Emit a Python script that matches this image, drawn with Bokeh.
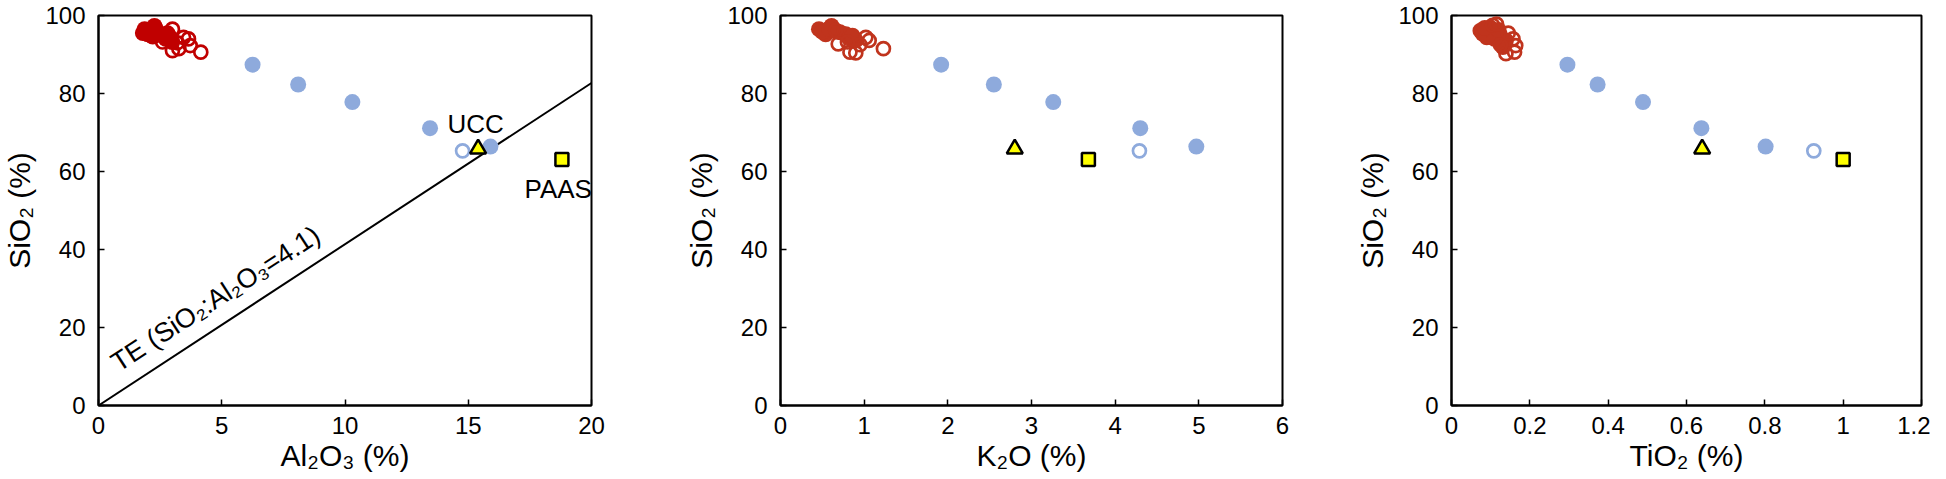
from bokeh.plotting import figure
from bokeh.layouts import row
from bokeh.models import Range1d, FixedTicker, CustomJSTickFormatter
from bokeh.embed import file_html
from bokeh.resources import INLINE
from bokeh.core.properties import value

# ---------------- data ----------------
blue_sio2 = [87.4, 82.3, 77.8, 71.1, 66.4]
blue_al2o3 = [6.25, 8.1, 10.3, 13.45, 15.9]
blue_k2o = [1.92, 2.55, 3.26, 4.30, 4.97]
blue_tio2 = [0.296, 0.373, 0.489, 0.638, 0.802]

blue_open_sio2 = [65.3]
blue_open_al2o3 = [14.77]
blue_open_k2o = [4.29]
blue_open_tio2 = [0.925]

ucc_sio2 = [65.8]
ucc_al2o3 = [15.4]
ucc_k2o = [2.80]
ucc_tio2 = [0.64]

paas_sio2 = [63.1]
paas_al2o3 = [18.8]
paas_k2o = [3.68]
paas_tio2 = [1.0]

red_fill_al2o3 = [1.87, 2.27, 2.0, 2.47, 2.73, 2.99, 2.1, 2.6, 1.8, 2.35, 2.85, 2.2]
red_fill_al2o3_sio2 = [96.5, 97.3, 95.2, 95.2, 94.0, 93.2, 96.0, 94.8, 95.5, 96.3, 94.9, 94.6]
red_open_al2o3 = [3.0, 3.45, 3.65, 2.6, 3.0, 3.26, 4.15, 3.72, 2.8, 3.2]
red_open_al2o3_sio2 = [96.5, 94.4, 94.0, 93.2, 91.0, 91.5, 90.6, 92.3, 95.5, 93.0]

red_fill_k2o = [0.46, 0.61, 0.54, 0.71, 0.81, 0.90, 0.50, 0.65, 0.78, 0.58, 0.86]
red_fill_k2o_sio2 = [96.5, 97.3, 95.2, 95.7, 94.4, 93.6, 95.8, 96.0, 95.2, 96.6, 94.8]
red_open_k2o = [0.66, 1.02, 1.06, 0.69, 0.83, 0.90, 1.23, 0.95, 0.80]
red_open_k2o_sio2 = [96.2, 94.4, 93.6, 92.7, 90.6, 90.4, 91.5, 92.5, 93.2]

red_fill_tio2 = [0.074, 0.099, 0.090, 0.123, 0.139, 0.131, 0.08, 0.11, 0.085, 0.12]
red_fill_tio2_sio2 = [96.1, 96.9, 94.4, 95.2, 93.6, 91.9, 95.3, 94.0, 96.8, 96.3]
red_open_tio2 = [0.105, 0.115, 0.157, 0.164, 0.139, 0.161, 0.125, 0.145]
red_open_tio2_sio2 = [97.5, 97.8, 94.0, 92.3, 90.2, 90.6, 92.5, 95.5]

te_al2o3 = [0, 20]
te_sio2 = [0, 82.7]

y_ticks = [0, 20, 40, 60, 80, 100]
x_ticks_al = [0, 5, 10, 15, 20]
x_ticks_k = [0, 1, 2, 3, 4, 5, 6]
x_ticks_ti = [0, 0.2, 0.4, 0.6, 0.8, 1.0, 1.2]

labels_text = ["UCC", "PAAS"]
labels_x = [15.3, 18.65]
labels_y = [72.3, 55.4]

# ---------------- style ----------------
BLUE = "#8eaadc"
RED1 = "#c00000"
RED2 = "#c0341d"
TICK_FONT = "'Liberation Sans Narrow', 'Liberation Sans', Arial, sans-serif"
TITLE_FONT = "'Liberation Sans', Arial, sans-serif"

H = 477
TOP = 15
BOTTOM = 72


def make_fig(width, bl, br, xmax, xticks, xlabel, fmt=None):
    p = figure(width=width, height=H, x_range=Range1d(0, xmax), y_range=Range1d(0, 100),
               output_backend="svg", toolbar_location=None,
               min_border_left=bl, min_border_right=br,
               min_border_top=TOP, min_border_bottom=BOTTOM)
    p.grid.visible = False
    p.outline_line_color = "black"
    p.outline_line_width = 2
    p.background_fill_color = "white"
    p.border_fill_color = "white"
    for ax in (p.xaxis[0], p.yaxis[0]):
        ax.axis_line_color = "black"
        ax.axis_line_width = 2
        ax.major_tick_in = 6
        ax.major_tick_out = 0
        ax.major_tick_line_width = 1.5
        ax.major_tick_line_color = "black"
        ax.minor_tick_line_color = None
        ax.major_label_text_font = TICK_FONT
        ax.major_label_text_font_size = "24px"
        ax.major_label_text_color = "black"
        ax.axis_label_text_font = TITLE_FONT
        ax.axis_label_text_font_size = "30px"
        ax.axis_label_text_font_style = "normal"
        ax.axis_label_text_color = "black"
    p.xaxis[0].ticker = FixedTicker(ticks=xticks)
    p.yaxis[0].ticker = FixedTicker(ticks=y_ticks)
    if fmt is not None:
        p.xaxis[0].formatter = fmt
    p.xaxis[0].axis_label = xlabel
    p.yaxis[0].axis_label = "SiO\u2082 (%)"
    p.xaxis[0].major_label_standoff = 11
    p.xaxis[0].axis_label_standoff = 2
    p.yaxis[0].major_label_standoff = 13
    p.yaxis[0].axis_label_standoff = 6
    return p


def add_points(p, bx, by, box, boy, rfx, rfy, rox, roy, red, ux, uy, px, py):
    p.scatter(bx, by, size=16, marker="circle", fill_color=BLUE, line_color=None)
    p.scatter(box, boy, size=13, marker="circle", fill_color="white", line_color=BLUE, line_width=2.7)
    p.scatter(rfx, rfy, size=16, marker="circle", fill_color=red, line_color=None)
    p.scatter(rox, roy, size=13, marker="circle", fill_color=None, line_color=red, line_width=2.7)
    p.scatter(ux, uy, size=16, marker="triangle", fill_color="#ffff00", line_color="black", line_width=2.5)
    p.scatter(px, py, size=13, marker="square", fill_color="#ffff00", line_color="black", line_width=2.5)


p1 = make_fig(682, 87, 91, 20, x_ticks_al, "Al\u2082O\u2083 (%)")
p1.line(te_al2o3, te_sio2, line_color="black", line_width=2)
add_points(p1, blue_al2o3, blue_sio2, blue_open_al2o3, blue_open_sio2,
           red_fill_al2o3, red_fill_al2o3_sio2, red_open_al2o3, red_open_al2o3_sio2, RED1,
           ucc_al2o3, ucc_sio2, paas_al2o3, paas_sio2)
p1.text(x=labels_x, y=labels_y, text=labels_text, text_align="center", text_baseline="middle",
        text_font=value(TITLE_FONT), text_font_size="26px", text_color="black")
p1.text(x=[0.95], y=[7.2], text=["TE (SiO\u2082:Al\u2082O\u2083=4.1)"], angle=33, angle_units="deg",
        text_align="left", text_baseline="bottom",
        text_font=value(TITLE_FONT), text_font_size="27px", text_color="black")

p2 = make_fig(671, 87, 71, 6, x_ticks_k, "K\u2082O (%)")
add_points(p2, blue_k2o, blue_sio2, blue_open_k2o, blue_open_sio2,
           red_fill_k2o, red_fill_k2o_sio2, red_open_k2o, red_open_k2o_sio2, RED2,
           ucc_k2o, ucc_sio2, paas_k2o, paas_sio2)

fmt = CustomJSTickFormatter(code="return String(Math.round(tick*10)/10);")
p3 = make_fig(577, 86, 9, 1.2, x_ticks_ti, "TiO\u2082 (%)", fmt)
add_points(p3, blue_tio2, blue_sio2, blue_open_tio2, blue_open_sio2,
           red_fill_tio2, red_fill_tio2_sio2, red_open_tio2, red_open_tio2_sio2, RED2,
           ucc_tio2, ucc_sio2, paas_tio2, paas_sio2)

layout = row(p1, p2, p3)
open("out.html", "w").write(file_html(layout, INLINE))
